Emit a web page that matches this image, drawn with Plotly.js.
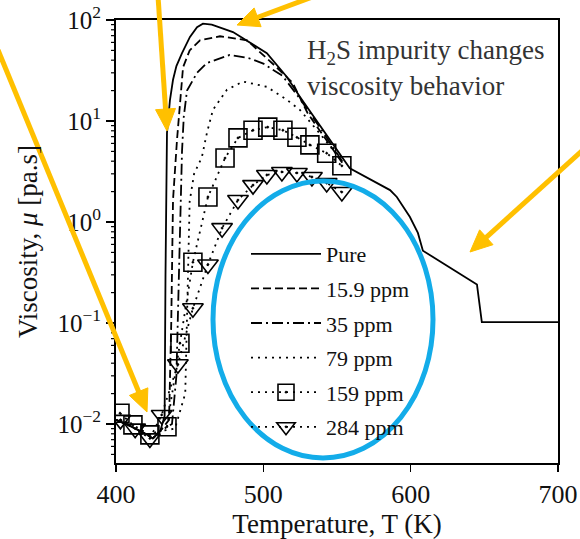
<!DOCTYPE html>
<html>
<head>
<meta charset="utf-8">
<script src="https://cdn.plot.ly/plotly-3.0.1.min.js"></script>
<style>html,body{margin:0;padding:0;background:#fff;}#chart{width:580px;height:539px;}</style>
</head>
<body>
<div id="chart"></div>
<script>
// ---- data ----
const pureT  = [400, 410, 420, 425, 430, 433, 433.6, 434, 434.6, 436.6, 438.7, 441, 444.8, 450.2, 455, 459, 465, 479.4, 502.4, 516, 524.8, 558.7, 577, 586, 590.6, 599.5, 604.9, 608.3, 645, 648.3, 700];
const pureMu = [0.011, 0.0095, 0.008, 0.0072, 0.0085, 0.012, 0.3, 2.5, 7.6, 16, 25.6, 35, 47, 68, 85, 92, 90, 76, 47, 27.3, 17.4, 3.4, 2.43, 2.07, 1.77, 1.12, 0.78, 0.52, 0.24, 0.102, 0.102];

const p16T  = [400, 410, 420, 425, 430, 436, 437.5, 438.7, 441.4, 443.4, 445.5, 450, 457, 470.6, 488.9, 509, 520, 530, 545, 555];
const p16Mu = [0.011, 0.0095, 0.008, 0.0072, 0.0085, 0.011, 0.1, 1.66, 6.5, 16, 34, 50, 63, 69, 63, 34, 23.8, 12, 5.8, 3.6];

const p35T  = [400, 410, 420, 425, 430, 438, 441, 443, 444.8, 446, 448.2, 455, 461.7, 477, 490, 500, 513, 525, 540, 555];
const p35Mu = [0.011, 0.0095, 0.008, 0.0072, 0.0085, 0.01, 0.03, 0.5, 5, 11, 20, 30, 37.5, 45, 42, 37, 28, 16.5, 8.0, 3.7];

const p79T  = [400, 410, 420, 425, 430, 440, 447, 448.5, 450, 453, 458.3, 461.7, 465.8, 475.3, 486.2, 502.4, 516, 524.8, 538.4, 554];
const p79Mu = [0.011, 0.0095, 0.008, 0.0072, 0.0085, 0.009, 0.02, 0.2, 1.6, 3.0, 4.4, 7.6, 12.9, 20.4, 24.6, 21.8, 16.2, 12.9, 7.5, 3.9];

const p159T  = [402.7, 411.5, 423, 434.6, 443.4, 452.2, 462.4, 474, 482.8, 493, 503, 513.3, 522.8, 531.6, 543, 553.3];
const p159Mu = [0.0128, 0.0098, 0.0078, 0.0094, 0.063, 0.40, 1.77, 4.3, 6.8, 8.1, 8.7, 8.1, 6.9, 5.8, 4.8, 3.6];

const p284T  = [403, 413, 423, 431, 442, 452.2, 462.4, 472, 482.8, 493, 502.4, 512.6, 522.8, 533, 543, 553.3];
const p284Mu = [0.011, 0.009, 0.0072, 0.0123, 0.039, 0.14, 0.38, 0.87, 1.65, 2.32, 2.92, 3.13, 3.06, 2.79, 2.43, 1.98];

const seriesNames = ['Pure', '15.9 ppm', '35 ppm', '79 ppm', '159 ppm', '284 ppm'];

const xTicks = [400, 500, 600, 700];
const yTickVals = [0.01, 0.1, 1, 10, 100];
const yTickText = ['10<sup>−2</sup>', '10<sup>−1</sup>', '10<sup>0</sup>', '10<sup>1</sup>', '10<sup>2</sup>'];
const yMinorVals = [0.005, 0.006, 0.007, 0.008, 0.009,
  0.02, 0.03, 0.04, 0.05, 0.06, 0.07, 0.08, 0.09,
  0.2, 0.3, 0.4, 0.5, 0.6, 0.7, 0.8, 0.9,
  2, 3, 4, 5, 6, 7, 8, 9,
  20, 30, 40, 50, 60, 70, 80, 90];

// ---- traces ----
const FONT = "'Liberation Serif', 'Times New Roman', serif";
function line(x, y, name, dash, grp, extra) {
  return Object.assign({
    type: 'scatter', mode: 'lines', x: x, y: y, name: name, legendgroup: grp,
    line: {color: '#000', width: 1.8, dash: dash}
  }, extra || {});
}
const traces = [
  line(pureT, pureMu, seriesNames[0], 'solid', 'g1'),
  line(p16T, p16Mu, seriesNames[1], '8px,4px', 'g2'),
  line(p35T, p35Mu, seriesNames[2], '11px,4px,2px,4px', 'g3'),
  line(p79T, p79Mu, seriesNames[3], '2px,5px', 'g4'),
  line(p159T, p159Mu, seriesNames[4], '2px,5px', 'g5', {
    mode: 'lines+markers',
    marker: {symbol: 'square-open-dot', size: 18, color: '#000', line: {color: '#000', width: 1.6}}
  }),
  line(p284T, p284Mu, seriesNames[5], '2px,5px', 'g6', {
    mode: 'lines+markers',
    marker: {symbol: 'triangle-down-open-dot', size: 18, color: '#000', line: {color: '#000', width: 1.6}}
  })
];

// pixel -> paper helpers (plot area: left 116, right 558, top 20, bottom 463)
const L = 116, R = 558, T = 20, B = 463;
const px = v => (v - L) / (R - L);
const py = v => (B - v) / (B - T);
const yRange = [-2.386, 2];
const pyLog = v => (Math.log10(v) - yRange[0]) / (yRange[1] - yRange[0]);

const YEL = '#FFC000';
function arrowShapes(tipX, tipY, tailX, tailY) {
  const dx = tipX - tailX, dy = tipY - tailY;
  const len = Math.hypot(dx, dy);
  const ux = dx / len, uy = dy / len;
  const h = 22, w = 10;
  const bx = tipX - ux * h, by = tipY - uy * h;
  const nx = -uy, ny = ux;
  const c1x = bx + nx * w, c1y = by + ny * w;
  const c2x = bx - nx * w, c2y = by - ny * w;
  return [
    {type: 'line', xref: 'paper', yref: 'paper', layer: 'above',
     x0: px(tailX), y0: py(tailY), x1: px(bx + ux * 2), y1: py(by + uy * 2),
     line: {color: YEL, width: 5}},
    {type: 'path', xref: 'paper', yref: 'paper', layer: 'above',
     path: 'M' + px(tipX) + ',' + py(tipY) + ' L' + px(c1x) + ',' + py(c1y) +
           ' L' + px(c2x) + ',' + py(c2y) + ' Z',
     fillcolor: YEL, line: {color: YEL, width: 1}}
  ];
}

// minor log ticks on the y axis (outside, short)
const minorTicks = yMinorVals.map(v => ({
  type: 'line', xref: 'paper', yref: 'paper', layer: 'above',
  x0: px(L - 5), x1: px(L), y0: pyLog(v), y1: pyLog(v),
  line: {color: '#000', width: 1.2}
}));

const shapes = minorTicks.concat([{
  type: 'circle', xref: 'paper', yref: 'paper', layer: 'above',
  x0: px(213), x1: px(433), y0: py(458), y1: py(181),
  line: {color: '#13ACE9', width: 5}
}]).concat(
  arrowShapes(147, 412, -2, 50),
  arrowShapes(167, 131, 158, -4),
  arrowShapes(237, 25, 315, -4),
  arrowShapes(470, 252, 584, 149)
);

const layout = {
  width: 580, height: 539,
  margin: {l: L, r: 580 - R, t: T, b: 539 - B, pad: 0},
  paper_bgcolor: '#fff', plot_bgcolor: '#fff',
  font: {family: FONT, size: 20, color: '#111'},
  showlegend: true,
  legend: {
    x: px(246), y: py(233), xanchor: 'left', yanchor: 'top',
    bgcolor: 'rgba(0,0,0,0)', borderwidth: 0,
    font: {family: FONT, size: 22, color: '#111'},
    traceorder: 'grouped', tracegroupgap: 3, itemwidth: 70
  },
  xaxis: {
    range: [400, 700], tickvals: xTicks, ticktext: xTicks.map(String),
    ticks: 'outside', ticklen: 7, tickwidth: 1.5, tickcolor: '#000',
    showline: true, linecolor: '#000', linewidth: 2, mirror: true,
    showgrid: false, zeroline: false,
    tickfont: {family: FONT, size: 26, color: '#111'},
    title: {text: 'Temperature, T (K)', font: {family: FONT, size: 27, color: '#111'}, standoff: 2}
  },
  yaxis: {
    type: 'log', range: yRange,
    tickmode: 'array', tickvals: yTickVals, ticktext: yTickText,
    ticks: 'outside', ticklen: 8, tickwidth: 1.5, tickcolor: '#000',
    showline: true, linecolor: '#000', linewidth: 2, mirror: true,
    showgrid: false, zeroline: false,
    tickfont: {family: FONT, size: 25, color: '#111'},
    title: {text: 'Viscosity, <i>μ</i> [pa.s]', font: {family: FONT, size: 27, color: '#111'}, standoff: 12}
  },
  shapes: shapes,
  annotations: [
    {xref: 'paper', yref: 'paper', x: px(305), y: py(52), xanchor: 'left', yanchor: 'middle',
     text: 'H<sub>2</sub>S impurity changes', showarrow: false,
     font: {family: FONT, size: 27, color: '#333'}},
    {xref: 'paper', yref: 'paper', x: px(305), y: py(86), xanchor: 'left', yanchor: 'middle',
     text: 'viscosity behavior', showarrow: false,
     font: {family: FONT, size: 27, color: '#333'}}
  ]
};

Plotly.newPlot('chart', traces, layout, {staticPlot: true, displayModeBar: false});
</script>
</body>
</html>
